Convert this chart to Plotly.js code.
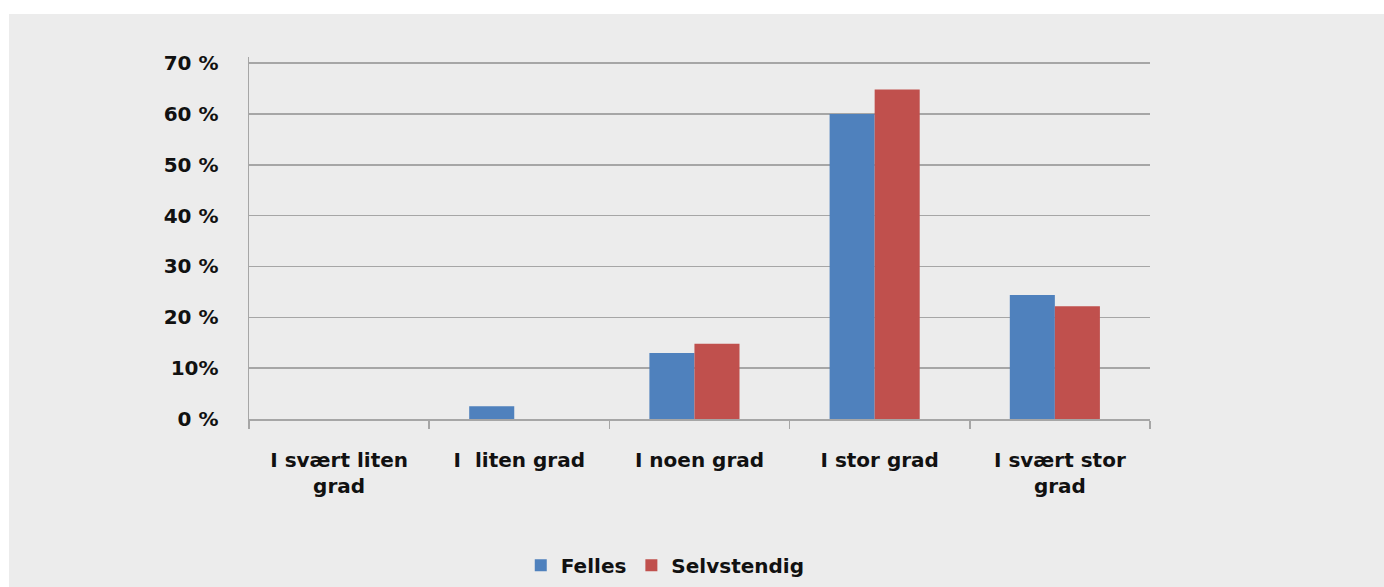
<!DOCTYPE html>
<html>
<head>
<meta charset="utf-8">
<script src="https://cdn.plot.ly/plotly-3.0.1.min.js"></script>
<style>
  html, body { margin: 0; padding: 0; background: #ffffff; width: 1384px; height: 587px; overflow: hidden; }
  #chart { position: absolute; left: 9px; top: 14px; width: 1375px; height: 573px; }
</style>
</head>
<body>
<div id="chart"></div>
<script>
const categories = ["I svært liten<br>grad", "I  liten grad", "I noen grad", "I stor grad", "I svært stor<br>grad"];
const felles = [0, 2.5, 13, 60, 24.4];
const selvstendig = [0, 0, 14.8, 64.8, 22.2];
const tickVals = [0, 10, 20, 30, 40, 50, 60, 70];
const tickText = ["0 %", "10%", "20 %", "30 %", "40 %", "50 %", "60 %", "70 %"];

const font = { family: "'DejaVu Sans', Verdana, sans-serif", size: 20, color: "#111111", weight: 700 };

const traces = [
  { type: "bar", name: "Felles", x: categories, y: felles, marker: { color: "#4f81bd" }, width: 0.25, offset: -0.278 },
  { type: "bar", name: "Selvstendig", x: categories, y: selvstendig, marker: { color: "#c0504d" }, width: 0.25, offset: -0.028 }
];

const layout = {
  width: 1375, height: 573,
  paper_bgcolor: "#ececec",
  plot_bgcolor: "#ececec",
  font: font,
  barmode: "group",
  bargap: 0.5,
  bargroupgap: 0,
  margin: { l: 240, r: 234, t: 43, b: 168, autoexpand: false },
  showlegend: true,
  legend: {
    orientation: "h", xref: "paper", x: 0.462, xanchor: "center",
    yref: "container", y: 0.038, yanchor: "middle",
    font: font, bgcolor: "rgba(0,0,0,0)", itemwidth: 30, traceorder: "normal"
  },
  xaxis: {
    type: "category",
    showline: true, linecolor: "#a6a6a6", linewidth: 1.5,
    ticks: "outside", tickson: "boundaries", ticklen: 8, tickcolor: "#a6a6a6", tickwidth: 1.5,
    showgrid: false, zeroline: false,
    ticklabelstandoff: 22,
    tickfont: font
  },
  yaxis: {
    range: [0, 71.2],
    tickvals: tickVals, ticktext: tickText,
    showline: true, linecolor: "#a6a6a6", linewidth: 1.5,
    showgrid: true, gridcolor: "#a6a6a6", gridwidth: 1.5,
    zeroline: false, ticks: "",
    ticklabelstandoff: 25,
    tickfont: font
  }
};

Plotly.newPlot("chart", traces, layout, { displayModeBar: false, staticPlot: true });
</script>
</body>
</html>
